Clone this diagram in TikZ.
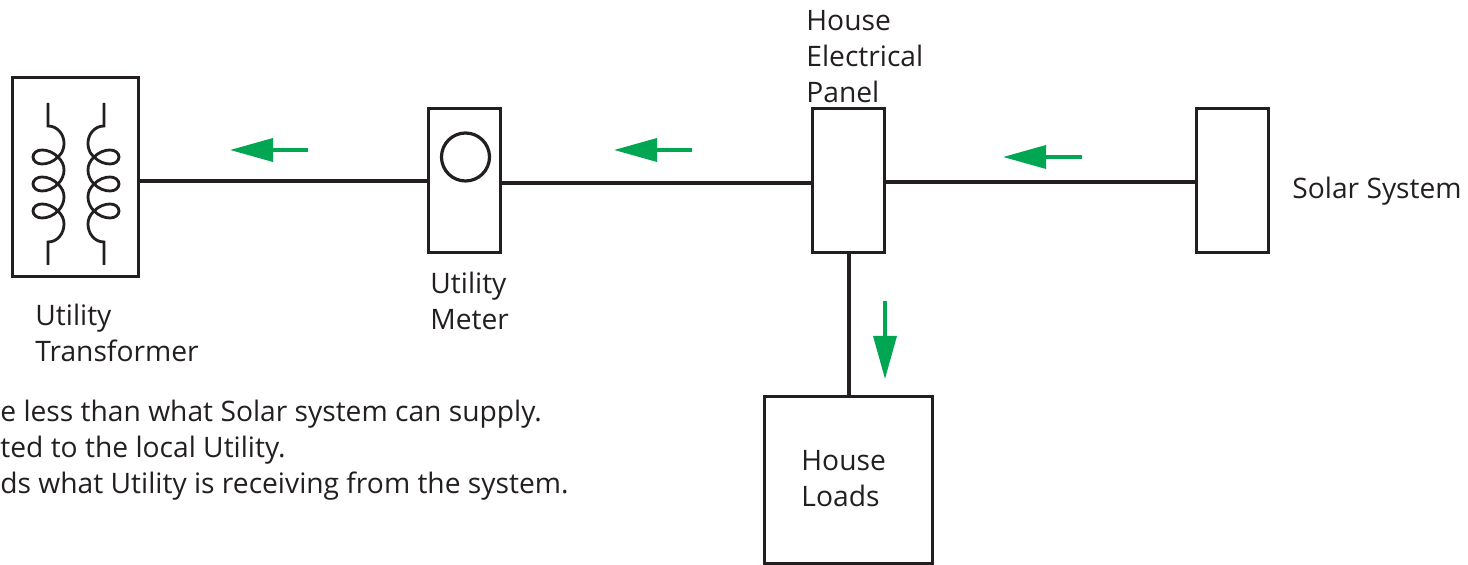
\documentclass[tikz,border=0pt]{standalone}
\usepackage{fontspec}
\setmainfont{Open Sans}
\usetikzlibrary{arrows.meta}
\definecolor{flow}{HTML}{00A651}
\definecolor{ink}{HTML}{231F20}
\tikzset{
  x=0.5pt,y=-0.5pt,
  unitbox/.style={draw=ink,line width=1.5pt,fill=white,inner sep=0,outer sep=0,rectangle},
  wire/.style={draw=ink,line width=2pt},
  coil/.style={draw=ink,line width=1.4pt},
  flowarrow/.style={draw=flow,line width=1.75pt,-{Triangle[length=21.5pt,width=11.5pt]},shorten >=0pt},
  lbl/.style={anchor=base west,inner sep=0,text=ink,font=\fontsize{14.1}{18}\selectfont,align=left},
}
\begin{document}
\begin{tikzpicture}
\useasboundingbox (0,0) rectangle (1468,565);
\node[unitbox,minimum width=63pt,minimum height=99.5pt] (xf) at (75.5,177.5) {};
\node[unitbox,minimum width=36pt,minimum height=72pt] (meter) at (464,180.5) {};
\node[unitbox,minimum width=36pt,minimum height=72pt] (panel) at (848.5,180.5) {};
\node[unitbox,minimum width=36pt,minimum height=72pt] (solar) at (1232.5,180.5) {};
\node[unitbox,minimum width=84pt,minimum height=83.5pt] (loads) at (848.5,480.5) {};
\node[draw=ink,line width=1.6pt,circle,inner sep=0,minimum size=24pt] (dial) at (465.5,157) {};
\draw[wire] ([yshift=-1.75pt]xf.east) -- ([yshift=-0.25pt]meter.west);
\draw[wire] ([yshift=-1.5pt]meter.east) -- ([yshift=-1.5pt]panel.west);
\draw[wire] ([yshift=-0.75pt]panel.east) -- ([yshift=-0.75pt]solar.west);
\draw[wire] (panel.south) -- (loads.north);
\foreach \n/\sx/\dx in {primary/1/0,secondary/-1/152}{
  \begin{scope}[shift={(\dx,0)},xscale=\sx]
  \draw[coil] (48,103) -- (48,126)
    .. controls (58,126) and (64,135) .. (64,143)
    .. controls (64,151) and (61,154) .. (58,157)
    .. controls (53,162) and (47,164) .. (42,164)
    .. controls (37,164) and (33,161) .. (33,157)
    .. controls (33,153) and (37,150) .. (42,150)
    .. controls (47,150) and (53,152) .. (58,157)
    .. controls (62,161) and (64,165) .. (64,170)
    .. controls (64,175) and (62,180) .. (58,184)
    .. controls (53,189) and (47,191) .. (42,191)
    .. controls (37,191) and (33,188) .. (33,184)
    .. controls (33,180) and (37,177) .. (42,177)
    .. controls (47,177) and (53,179) .. (58,184)
    .. controls (62,188) and (64,192) .. (64,197)
    .. controls (64,202) and (62,207) .. (58,211)
    .. controls (53,216) and (47,218) .. (42,218)
    .. controls (37,218) and (33,215) .. (33,211)
    .. controls (33,207) and (37,204) .. (42,204)
    .. controls (47,204) and (53,206) .. (58,211)
    .. controls (62,215) and (64,219) .. (64,224)
    .. controls (64,233) and (58,242) .. (48,242)
    -- (48,265);
  \end{scope}
}
\coordinate (a1s) at (308,150); \coordinate (a1e) at (230,150);
\coordinate (a2s) at (692,150); \coordinate (a2e) at (614,150);
\coordinate (a3s) at (1082,157); \coordinate (a3e) at (1003,157);
\coordinate (a4s) at (885,301); \coordinate (a4e) at (885,379);
\draw[flowarrow] (a1s) -- (a1e);
\draw[flowarrow] (a2s) -- (a2e);
\draw[flowarrow] (a3s) -- (a3e);
\draw[flowarrow] (a4s) -- (a4e);
\node[lbl] (t1) at (35,326) {Utility};
\node[lbl] (t2) at (35,362) {Transformer};
\node[lbl] (t3) at (430,294) {Utility};
\node[lbl] (t4) at (430,330) {Meter};
\node[lbl] (t5) at (806,31) {House};
\node[lbl] (t6) at (806,67) {Electrical};
\node[lbl] (t7) at (806,103) {Panel};
\node[lbl] (t8) at (1292,199) {Solar System};
\node[lbl] (t9) at (801,471) {House};
\node[lbl] (t10) at (801,507) {Loads};
\node[lbl] (n1) at (0,422) {e less than what Solar system can supply.};
\node[lbl] (n2) at (0,458) {ted to the local Utility.};
\node[lbl] (n3) at (0,494) {ds what Utility is receiving from the system.};
\end{tikzpicture}
\end{document}
